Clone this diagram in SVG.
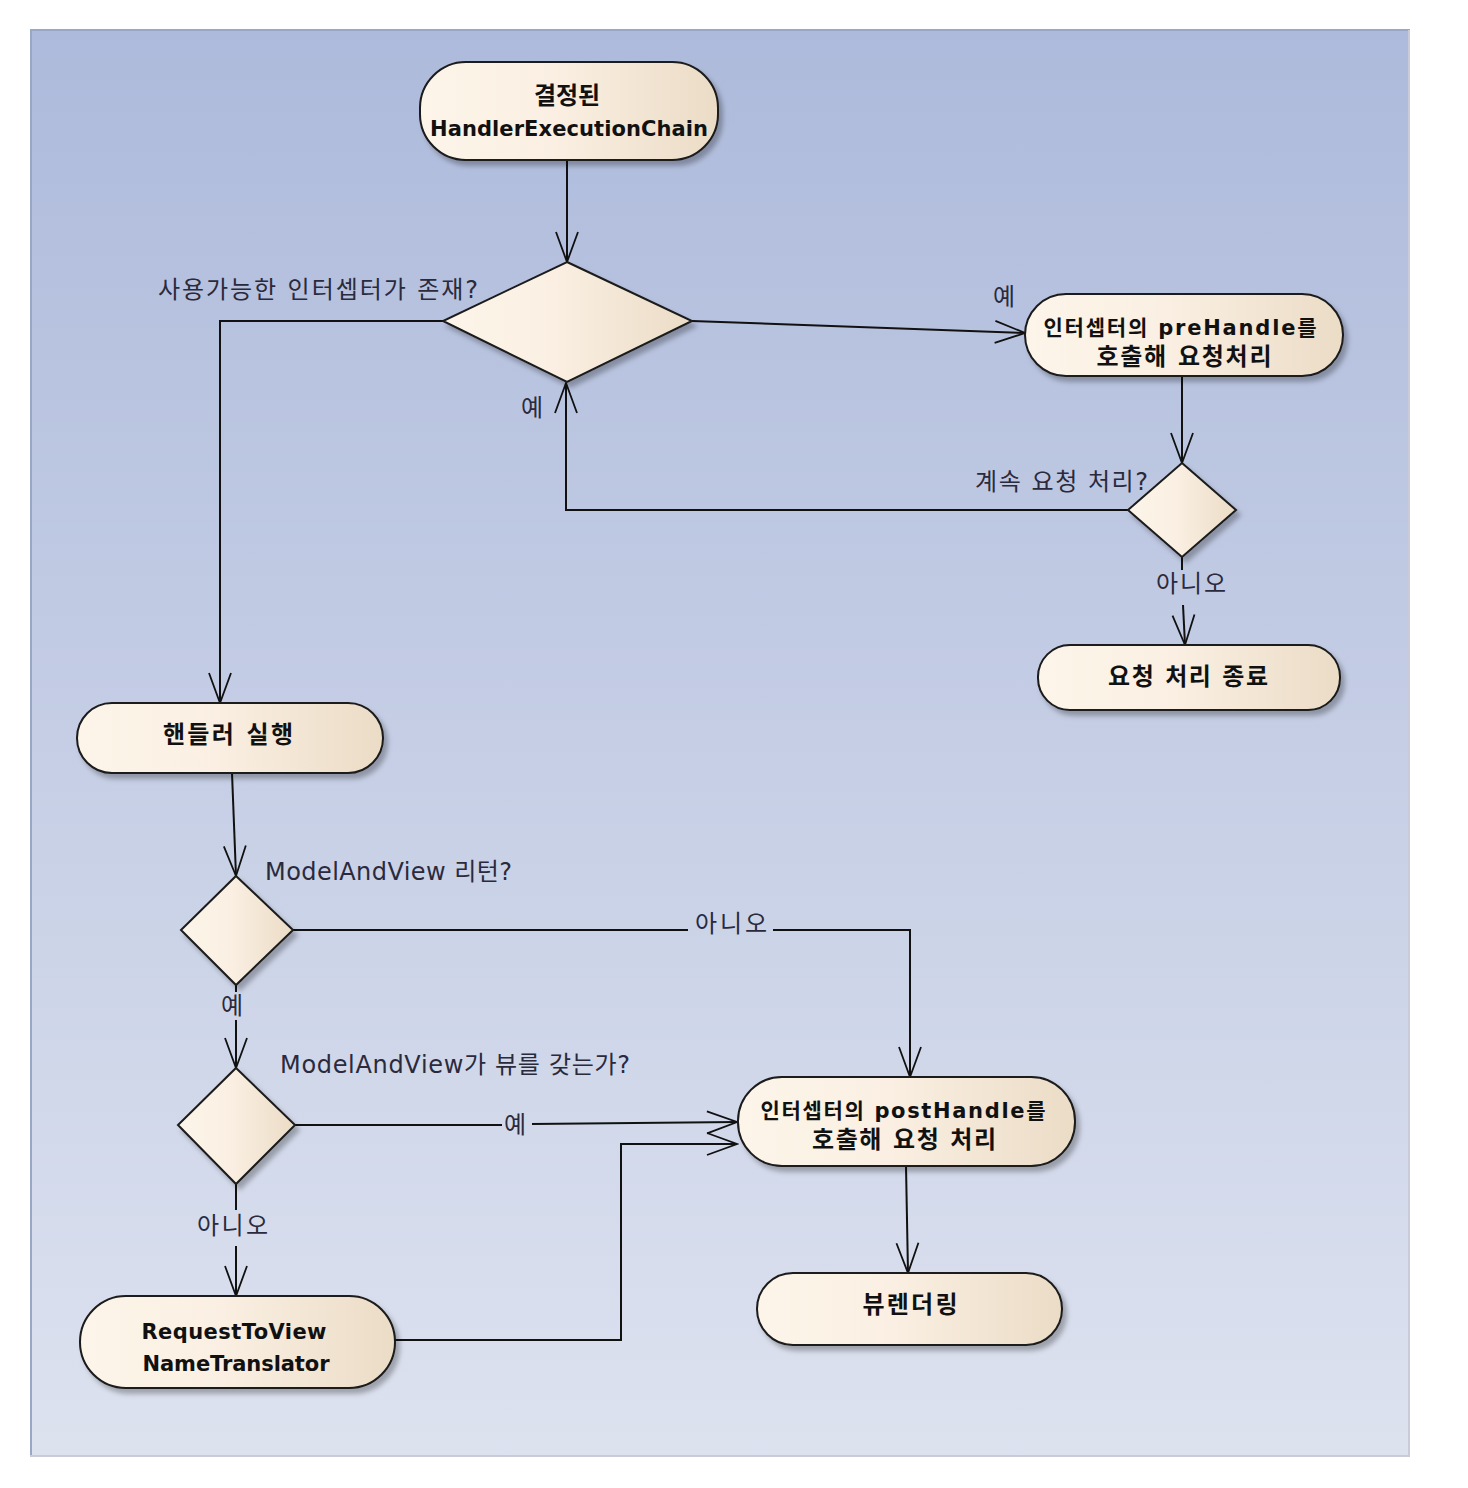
<svg xmlns="http://www.w3.org/2000/svg" width="1468" height="1488" viewBox="0 0 1468 1488">
<defs>
<linearGradient id="bg" x1="0" y1="0" x2="0" y2="1">
<stop offset="0" stop-color="#adbadb"/>
<stop offset="1" stop-color="#dde2ef"/>
</linearGradient>
<linearGradient id="nf" x1="0" y1="0" x2="1" y2="0">
<stop offset="0" stop-color="#fdf5ea"/>
<stop offset="0.45" stop-color="#faefe2"/>
<stop offset="1" stop-color="#ebdcc6"/>
</linearGradient>
<filter id="sh" x="-10%" y="-10%" width="125%" height="135%">
<feDropShadow dx="4" dy="5" stdDeviation="2.5" flood-color="#000" flood-opacity="0.28"/>
</filter>
<marker id="arr" viewBox="-32 -14 34 28" refX="0" refY="0" markerWidth="34" markerHeight="28" markerUnits="userSpaceOnUse" orient="auto">
<path d="M-30,-11 L0,0 L-30,11" fill="none" stroke="#111" stroke-width="1.8"/>
</marker>
</defs>
<style>
.node{fill:url(#nf);stroke:#1a1a1a;stroke-width:2;filter:url(#sh)}
.nt{font-family:"DejaVu Sans","Noto Sans CJK KR",sans-serif;font-size:24px;font-weight:bold;fill:#111;text-anchor:middle}
.nl{font-size:21px}
.lt{font-family:"DejaVu Sans","Noto Sans CJK KR",sans-serif;font-size:24px;fill:#2a2a3c}
.c{fill:none;stroke:#111;stroke-width:2}
.ca{fill:none;stroke:#111;stroke-width:2;marker-end:url(#arr)}
</style>
<rect x="30" y="29" width="1380" height="1428" fill="url(#bg)"/>
<path d="M31,1457 L31,30 L1410,30" fill="none" stroke="#9aa6c6" stroke-width="2"/>
<path d="M1409,30 L1409,1456 L30,1456" fill="none" stroke="#c9cbd9" stroke-width="2"/>

<g id="connectors">
<path class="ca" d="M567,160 L567,262"/>
<path class="ca" d="M443,321 L220,321 L220,703"/>
<path class="ca" d="M692,321 L1025,333"/>
<path class="ca" d="M1182,376 L1182,463"/>
<path class="ca" d="M1128,510 L566,510 L566,383"/>
<path class="c" d="M1182,557 L1182,570"/>
<path class="ca" d="M1183,605 L1185,645"/>
<path class="ca" d="M232,773 L236,876"/>
<path class="c" d="M293,930 L688,930"/>
<path class="ca" d="M773,930 L910,930 L910,1077"/>
<path class="c" d="M236,985 L236,992"/>
<path class="ca" d="M236,1020 L236,1068"/>
<path class="c" d="M295,1125 L502,1125"/>
<path class="ca" d="M532,1124 L737,1122"/>
<path class="c" d="M236,1184 L236,1210"/>
<path class="ca" d="M236,1246 L236,1296"/>
<path class="ca" d="M395,1340 L621,1340 L621,1144 L737,1144"/>
<path class="ca" d="M906,1166 L908,1273"/>
</g>

<g id="labels">
<text class="lt" x="158" y="298" textLength="320">사용가능한 인터셉터가 존재?</text>
<text class="lt" x="993" y="305">예</text>
<text class="lt" x="521" y="416">예</text>
<text class="lt" x="975" y="490" textLength="173">계속 요청 처리?</text>
<text class="lt" x="1156" y="592" textLength="70">아니오</text>
<text class="lt" x="265" y="880" textLength="247">ModelAndView 리턴?</text>
<text class="lt" x="695" y="932" textLength="72">아니오</text>
<text class="lt" x="221" y="1014">예</text>
<text class="lt" x="280" y="1073" textLength="350">ModelAndView가 뷰를 갖는가?</text>
<text class="lt" x="504" y="1133">예</text>
<text class="lt" x="197" y="1234" textLength="71">아니오</text>
</g>

<g id="n_chain">
<rect class="node" x="420" y="62" width="298" height="98" rx="46"/>
<text class="nt" x="567" y="104">결정된</text>
<text class="nt nl" x="569" y="136" textLength="278">HandlerExecutionChain</text>
</g>
<g id="d_interceptor">
<polygon class="node" points="567,262 692,321 567,382 443,321"/>
</g>
<g id="n_prehandle">
<rect class="node" x="1025" y="294" width="318" height="82" rx="41"/>
<text class="nt nl" x="1180" y="335" textLength="273">인터셉터의 preHandle를</text>
<text class="nt" x="1184" y="365" textLength="175">호출해 요청처리</text>
</g>
<g id="d_continue">
<polygon class="node" points="1182,463 1236,510 1182,557 1128,510"/>
</g>
<g id="n_end">
<rect class="node" x="1038" y="645" width="302" height="65" rx="32"/>
<text class="nt" x="1188" y="685" textLength="160">요청 처리 종료</text>
</g>
<g id="n_handler">
<rect class="node" x="77" y="703" width="306" height="70" rx="35"/>
<text class="nt" x="228" y="743" textLength="130">핸들러 실행</text>
</g>
<g id="d_mav">
<polygon class="node" points="236,876 293,930 236,985 181,930"/>
</g>
<g id="d_view">
<polygon class="node" points="236,1068 295,1125 236,1184 178,1125"/>
</g>
<g id="n_translator">
<rect class="node" x="80" y="1296" width="315" height="92" rx="46"/>
<text class="nt nl" x="234" y="1339" textLength="185">RequestToView</text>
<text class="nt nl" x="236" y="1371" textLength="187">NameTranslator</text>
</g>
<g id="n_posthandle">
<rect class="node" x="738" y="1077" width="337" height="89" rx="44"/>
<text class="nt nl" x="903" y="1118" textLength="285">인터셉터의 postHandle를</text>
<text class="nt" x="904" y="1148" textLength="184">호출해 요청 처리</text>
</g>
<g id="n_render">
<rect class="node" x="757" y="1273" width="305" height="72" rx="36"/>
<text class="nt" x="910" y="1313" textLength="95">뷰렌더링</text>
</g>
</svg>
